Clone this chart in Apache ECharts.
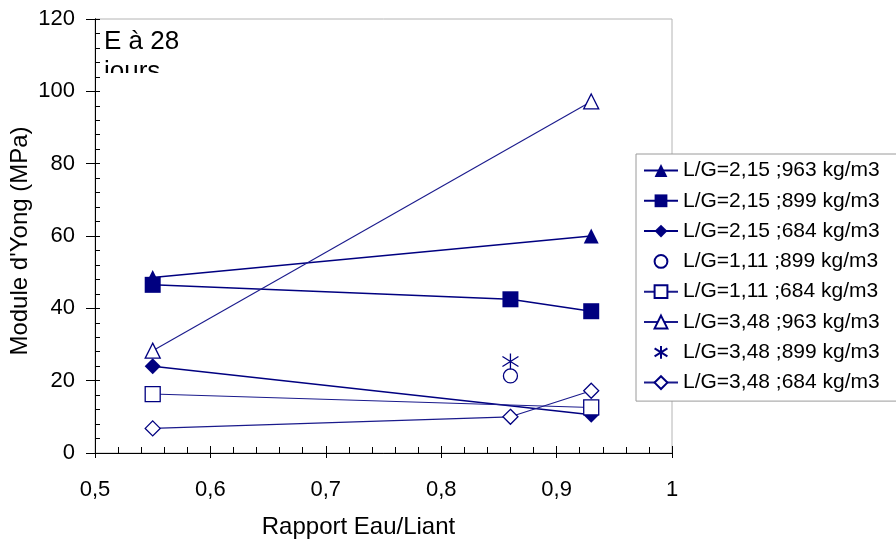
<!DOCTYPE html>
<html><head><meta charset="utf-8">
<script src="https://cdn.jsdelivr.net/npm/echarts@6/dist/echarts.min.js"></script>
<style>html,body{margin:0;padding:0;background:#fff}#c{width:896px;height:544px}</style>
</head><body><div id="c"></div>
<script>
// ---- data ----
const seriesNames = [
  'L/G=2,15 ;963 kg/m3',
  'L/G=2,15 ;899 kg/m3',
  'L/G=2,15 ;684 kg/m3',
  'L/G=1,11 ;899 kg/m3',
  'L/G=1,11 ;684 kg/m3',
  'L/G=3,48 ;963 kg/m3',
  'L/G=3,48 ;899 kg/m3',
  'L/G=3,48 ;684 kg/m3'
];
const x_s1 = [0.55, 0.93];       const y_s1 = [48.5, 60];
const x_s2 = [0.55, 0.86, 0.93]; const y_s2 = [46.5, 42.5, 39.2];
const x_s3 = [0.55, 0.93];       const y_s3 = [24, 10.6];
const x_s4 = [0.86];             const y_s4 = [21.3];
const x_s5 = [0.55, 0.93];       const y_s5 = [16.3, 12.6];
const x_s6 = [0.55, 0.93];       const y_s6 = [28.3, 97.2];
const x_s7 = [0.86];             const y_s7 = [25.3];
const x_s8 = [0.55, 0.86, 0.93]; const y_s8 = [6.8, 10, 17.2];
const xTicks = [0.5, 0.6, 0.7, 0.8, 0.9, 1];
const yTicks = [0, 20, 40, 60, 80, 100, 120];
const xTitle = 'Rapport Eau/Liant';
const yTitle = "Module d'Yong (MPa)";
const noteText = 'E à 28\njours';

// ---- chart ----
const NAVY = '#000080';
const FONT = 'Liberation Sans';
const pairs = (xs, ys) => xs.map((x, i) => [x, ys[i]]);
const asterisk = 'path://M1,3L15,13M15,3L1,13M8,0L8,16';

const defs = [
  {x: x_s1, y: y_s1, sym: 'triangle', size: 15, fill: NAVY, lw: 1.5, col: NAVY, show: true},
  {x: x_s2, y: y_s2, sym: 'rect',     size: 16, fill: NAVY, lw: 1.5, col: NAVY, show: true},
  {x: x_s3, y: y_s3, sym: 'diamond',  size: 16, fill: NAVY, lw: 1.5, col: NAVY, show: true},
  {x: x_s4, y: y_s4, sym: 'circle',   size: 14, fill: '#fff', lw: 1, col: NAVY, show: false},
  {x: x_s5, y: y_s5, sym: 'rect',     size: 15, fill: '#fff', lw: 1.1, col: '#1a1a8c', show: true},
  {x: x_s6, y: y_s6, sym: 'triangle', size: 15, fill: '#fff', lw: 1.1, col: '#1a1a8c', show: true},
  {x: x_s7, y: y_s7, sym: asterisk,   size: 16, fill: 'rgba(0,0,0,0)', lw: 1, col: NAVY, show: false},
  {x: x_s8, y: y_s8, sym: 'diamond',  size: 15, fill: '#fff', lw: 1.1, col: '#1a1a8c', show: true}
];

const series = defs.map((d, i) => ({
  name: seriesNames[i],
  type: 'line',
  xAxisIndex: 0, yAxisIndex: 0,
  data: pairs(d.x, d.y),
  symbol: d.sym,
  symbolSize: d.size,
  showAllSymbol: true,
  lineStyle: {color: d.col, width: d.lw, opacity: d.show ? 1 : 0},
  itemStyle: {color: d.fill, borderColor: NAVY, borderWidth: d.fill === NAVY ? 0 : 1.3, opacity: 1},
  emphasis: {disabled: true},
  z: 3 + i
}));

const fmt = v => String(+(+v).toFixed(1)).replace('.', ',');
const grid = {left: 95, right: 224, top: 19, bottom: 91, show: true, borderColor: '#b4b4b4', borderWidth: 1,
              backgroundColor: '#fff', containLabel: false, outerBoundsMode: 'none'};

const option = {
  animation: false,
  backgroundColor: '#fff',
  grid: grid,
  xAxis: [
    {type: 'value', min: xTicks[0], max: xTicks[xTicks.length - 1], interval: 0.1, position: 'bottom',
     name: xTitle, nameLocation: 'middle', nameGap: 62, nameMoveOverlap: false,
     nameTextStyle: {fontFamily: FONT, fontSize: 24, color: '#000', padding: [0, 50, 0, 0]},
     axisLine: {show: true, onZero: false, lineStyle: {color: '#000', width: 1}},
     axisTick: {show: true, inside: false, length: 5, lineStyle: {color: '#000'}},
     axisLabel: {fontFamily: FONT, fontSize: 22, color: '#000', margin: 26, formatter: fmt},
     splitLine: {show: false}},
    {type: 'value', min: xTicks[0], max: xTicks[xTicks.length - 1], interval: 0.1, position: 'bottom',
     axisLine: {show: true, onZero: false, lineStyle: {color: '#000', width: 1}},
     axisTick: {show: true, inside: true, length: 7, lineStyle: {color: '#000'}},
     minorTick: {show: true, splitNumber: 5, length: 6, lineStyle: {color: '#000'}},
     axisLabel: {show: false}, splitLine: {show: false}}
  ],
  yAxis: [
    {type: 'value', min: yTicks[0], max: yTicks[yTicks.length - 1], interval: 20, position: 'left',
     name: yTitle, nameLocation: 'middle', nameGap: 63, nameMoveOverlap: false,
     nameTextStyle: {fontFamily: FONT, fontSize: 24, color: '#000', padding: [0, 10, 0, 0]},
     axisLine: {show: true, onZero: false, lineStyle: {color: '#000', width: 1}},
     axisTick: {show: true, inside: false, length: 9, lineStyle: {color: '#000'}},
     axisLabel: {fontFamily: FONT, fontSize: 22, color: '#000', margin: 20},
     splitLine: {show: false}},
    {type: 'value', min: yTicks[0], max: yTicks[yTicks.length - 1], interval: 20, position: 'left',
     axisLine: {show: true, onZero: false, lineStyle: {color: '#000', width: 1}},
     axisTick: {show: true, inside: true, length: 5, lineStyle: {color: '#000'}},
     minorTick: {show: true, splitNumber: 5, length: 5, lineStyle: {color: '#000'}},
     axisLabel: {show: false}, splitLine: {show: false}}
  ],
  legend: {
    orient: 'vertical', left: 636, top: 154,
    padding: [6, 60, 8, 7],
    itemWidth: 34, itemHeight: 16, itemGap: 9.3,
    borderColor: '#9a9a9a', borderWidth: 1, backgroundColor: '#fff',
    textStyle: {fontFamily: FONT, fontSize: 21, color: '#000', lineHeight: 21},
    selectedMode: false,
    data: seriesNames
  },
  graphic: [
    {type: 'text', left: 104, top: 27, z: 1,
     style: {text: noteText, font: '26px "Liberation Sans"', fill: '#000', lineHeight: 30}},
    {type: 'rect', left: 100, top: 73, z: 2, shape: {width: 120, height: 22}, style: {fill: '#fff'}}
  ],
  series: series
};

const chart = echarts.init(document.getElementById('c'), null, {renderer: 'canvas'});
chart.setOption(option);
</script>
</body></html>
